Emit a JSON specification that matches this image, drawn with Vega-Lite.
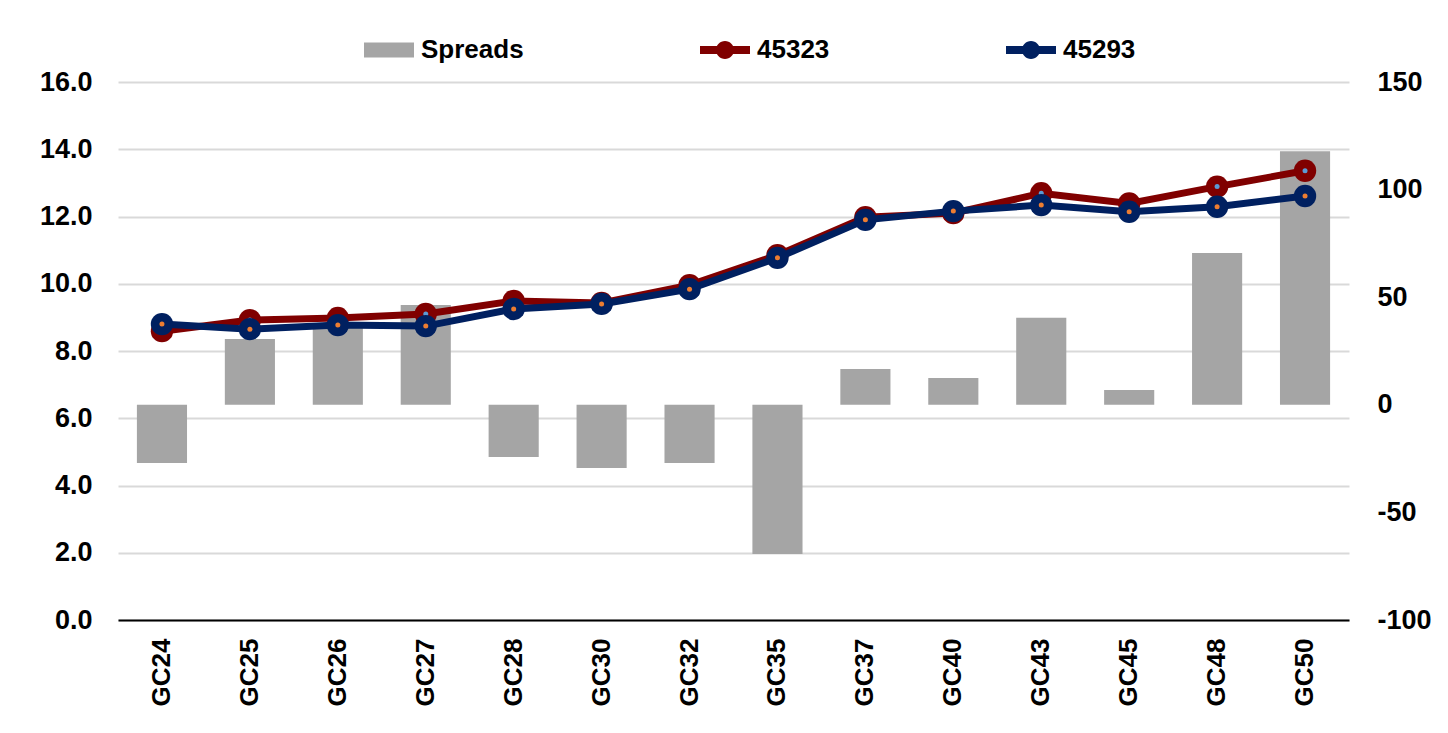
{
  "$schema": "https://vega.github.io/schema/vega-lite/v6.json",
  "autosize": {"type": "none"},
  "width": 1231,
  "height": 538,
  "padding": {"left": 118, "top": 82, "right": 99, "bottom": 113},
  "background": "white",
  "config": {
    "view": {"stroke": null},
    "font": "Liberation Sans",
    "axis": {"labelFont": "Liberation Sans", "labelFontWeight": "bold", "labelColor": "black", "labelFontSize": 27}
  },
  "data": {
    "values": [
      {"cat": "GC24", "series": "Spreads", "value": -27},
      {"cat": "GC25", "series": "Spreads", "value": 30.6},
      {"cat": "GC26", "series": "Spreads", "value": 37},
      {"cat": "GC27", "series": "Spreads", "value": 46.4},
      {"cat": "GC28", "series": "Spreads", "value": -24.3},
      {"cat": "GC30", "series": "Spreads", "value": -29.4},
      {"cat": "GC32", "series": "Spreads", "value": -27},
      {"cat": "GC35", "series": "Spreads", "value": -69.3},
      {"cat": "GC37", "series": "Spreads", "value": 16.6},
      {"cat": "GC40", "series": "Spreads", "value": 12.4},
      {"cat": "GC43", "series": "Spreads", "value": 40.5},
      {"cat": "GC45", "series": "Spreads", "value": 6.9},
      {"cat": "GC48", "series": "Spreads", "value": 70.5},
      {"cat": "GC50", "series": "Spreads", "value": 117.8},
      {"cat": "GC24", "series": "45323", "value": 8.59},
      {"cat": "GC25", "series": "45323", "value": 8.92},
      {"cat": "GC26", "series": "45323", "value": 8.98},
      {"cat": "GC27", "series": "45323", "value": 9.1},
      {"cat": "GC28", "series": "45323", "value": 9.49},
      {"cat": "GC30", "series": "45323", "value": 9.43},
      {"cat": "GC32", "series": "45323", "value": 9.96},
      {"cat": "GC35", "series": "45323", "value": 10.85},
      {"cat": "GC37", "series": "45323", "value": 11.98},
      {"cat": "GC40", "series": "45323", "value": 12.1},
      {"cat": "GC43", "series": "45323", "value": 12.69},
      {"cat": "GC45", "series": "45323", "value": 12.39},
      {"cat": "GC48", "series": "45323", "value": 12.89},
      {"cat": "GC50", "series": "45323", "value": 13.36},
      {"cat": "GC24", "series": "45293", "value": 8.8},
      {"cat": "GC25", "series": "45293", "value": 8.65},
      {"cat": "GC26", "series": "45293", "value": 8.77},
      {"cat": "GC27", "series": "45293", "value": 8.74},
      {"cat": "GC28", "series": "45293", "value": 9.25},
      {"cat": "GC30", "series": "45293", "value": 9.4},
      {"cat": "GC32", "series": "45293", "value": 9.84},
      {"cat": "GC35", "series": "45293", "value": 10.77},
      {"cat": "GC37", "series": "45293", "value": 11.9},
      {"cat": "GC40", "series": "45293", "value": 12.16},
      {"cat": "GC43", "series": "45293", "value": 12.34},
      {"cat": "GC45", "series": "45293", "value": 12.14},
      {"cat": "GC48", "series": "45293", "value": 12.29},
      {"cat": "GC50", "series": "45293", "value": 12.61}
    ]
  },
  "encoding": {
    "x": {
      "field": "cat", "type": "nominal", "sort": null, "title": null,
      "scale": {"paddingInner": 0.43, "paddingOuter": 0.215},
      "axis": {"labelAngle": -90, "labelFontSize": 26, "labelPadding": 18, "ticks": false, "domainColor": "black", "domainWidth": 2, "labelBaseline": "middle", "labelAlign": "right"}
    }
  },
  "layer": [
    {
      "transform": [{"filter": "datum.series === 'Spreads'"}],
      "mark": {"type": "bar", "color": "#a5a5a5"},
      "encoding": {
        "y": {
          "field": "value", "type": "quantitative", "title": null,
          "scale": {"domain": [-100, 150], "nice": false, "zero": false},
          "axis": {"orient": "right", "values": [-100, -50, 0, 50, 100, 150], "grid": false, "domain": false, "ticks": false, "labelPadding": 28,
            "labelExpr": "datum.value < 0 ? '-' + abs(datum.value) : '' + datum.value"}
        },
        "color": {
          "field": "series", "type": "nominal",
          "scale": {"domain": ["Spreads", "45323", "45293"], "range": ["#a5a5a5", "#800000", "#002060"]},
          "legend": {
            "orient": "none", "legendX": 246, "legendY": -57, "direction": "horizontal", "title": null,
            "labelFontSize": 26, "labelFontWeight": "bold", "labelFont": "Liberation Sans", "labelColor": "black",
            "labelOffset": 7, "columnPadding": 176, "symbolSize": 2500,
            "encode": {
              "symbols": {
                "update": {
                  "shape": {"signal": "datum.value === 'Spreads' ? 'M-1,-0.3H1V0.3H-1Z' : 'M-1,-0.16H-0.3V0.16H-1Z M0.3,-0.16H1V0.16H0.3Z M0.36,0A0.36,0.36 0 1 1 -0.36,0A0.36,0.36 0 1 1 0.36,0Z'"},
                  "fill": {"signal": "scale('color', datum.value)"},
                  "fillOpacity": {"value": 1},
                  "strokeWidth": {"value": 0},
                  "size": {"value": 2500}
                }
              }
            }
          }
        }
      }
    },
    {
      "encoding": {
        "y": {"field": "value", "type": "quantitative", "title": null,
          "scale": {"domain": [0, 16], "nice": false},
          "axis": {"orient": "left", "values": [0, 2, 4, 6, 8, 10, 12, 14, 16], "format": ".1f", "grid": true, "gridColor": "#d9d9d9", "gridWidth": 2, "domain": false, "ticks": false, "labelPadding": 26}}
      },
      "layer": [
        {
          "transform": [{"filter": "datum.series === '45323'"}],
          "mark": {"type": "line", "strokeWidth": 7},
          "encoding": {"color": {"field": "series", "type": "nominal"}}
        },
        {
          "transform": [{"filter": "datum.series === '45323'"}],
          "mark": {"type": "point", "filled": true, "opacity": 1, "size": 500, "shape": "circle"},
          "encoding": {"color": {"field": "series", "type": "nominal"}}
        },
        {
          "transform": [{"filter": "datum.series === '45323'"}],
          "mark": {"type": "point", "filled": true, "opacity": 1, "size": 25, "shape": "circle", "color": "#5b9bd5"}
        },
        {
          "transform": [{"filter": "datum.series === '45293'"}],
          "mark": {"type": "line", "strokeWidth": 7},
          "encoding": {"color": {"field": "series", "type": "nominal"}}
        },
        {
          "transform": [{"filter": "datum.series === '45293'"}],
          "mark": {"type": "point", "filled": true, "opacity": 1, "size": 500, "shape": "circle"},
          "encoding": {"color": {"field": "series", "type": "nominal"}}
        },
        {
          "transform": [{"filter": "datum.series === '45293'"}],
          "mark": {"type": "point", "filled": true, "opacity": 1, "size": 25, "shape": "circle", "color": "#ed7d31"}
        }
      ]
    }
  ],
  "resolve": {"scale": {"y": "independent"}}
}
